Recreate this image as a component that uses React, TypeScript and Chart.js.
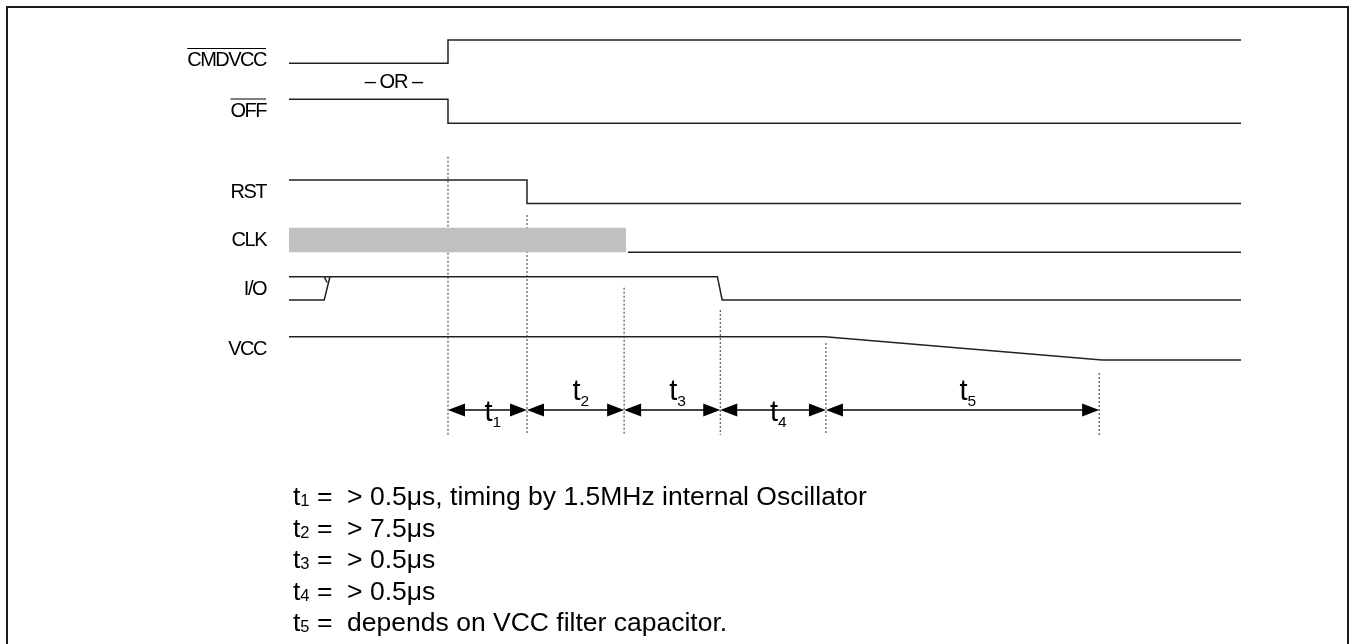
import { useEffect, useRef } from "react";
import { Chart, registerables } from "chart.js";

Chart.register(...registerables);

// ---- signal names (left labels) ----
const SIGNAL_NAMES = ["CMDVCC", "OFF", "RST", "CLK", "I/O", "VCC"];
const SIGNAL_OVERLINE = [true, true, false, false, false, false];

// ---- waveforms: time (0..100) and logic level (1 = high, 0 = low) ----
const CMDVCC_T = [0, 16.7, 16.7, 100];
const CMDVCC_L = [0, 0, 1, 1];

const OFF_T = [0, 16.7, 16.7, 100];
const OFF_L = [1, 1, 0, 0];

const RST_T = [0, 25.0, 25.0, 100];
const RST_L = [1, 1, 0, 0];

const CLK_ACTIVE_T = [0, 35.4];
const CLK_IDLE_T = [35.6, 100];
const CLK_IDLE_L = [0, 0];

const IO_T = [0, 45.0, 45.5, 100];
const IO_L = [1, 1, 0, 0];
const IO_UNDEF_T = [0, 3.7, 4.3];
const IO_UNDEF_L = [0, 0, 1];
const IO_TICK_T = [3.7, 4.0];
const IO_TICK_L = [1, 0.75];

const VCC_T = [0, 56.3, 85.4, 100];
const VCC_L = [1, 1, 0, 0];

// ---- timing markers and intervals ----
const MARKER_T = [16.7, 25.0, 35.2, 45.3, 56.4, 85.1];
const INTERVAL_NAMES = ["1", "2", "3", "4", "5"];
const INTERVAL_LABEL_BELOW = [true, false, false, true, false];

// ---- notes ----
const NOTE_SUBS = ["1", "2", "3", "4", "5"];
const NOTE_TEXTS = [
  "> 0.5\u03bcs, timing by 1.5MHz internal Oscillator",
  "> 7.5\u03bcs",
  "> 0.5\u03bcs",
  "> 0.5\u03bcs",
  "depends on VCC filter capacitor.",
];
const OR_TEXT = "\u2013 OR \u2013";

// ---- layout (diagram units on y axis, top-down) ----
const ROW_HIGH = [40, 99.3, 180, 227.7, 276.7, 336.7];
const ROW_LOW = [63.3, 123.3, 203.5, 252.3, 300, 360];
const LABEL_Y = [60.5, 111, 192, 240.5, 289, 349.5];
const MARKER_TOP = [156.7, 215, 287.7, 310, 343, 373];
const MARKER_BOTTOM = 435;
const ARROW_Y = 410;

const FONT = '"Liberation Sans", Arial, sans-serif';
const LINE_COLOR = "#222";

function wave(times: number[], levels: number[], row: number) {
  return times.map((t, i) => ({
    x: t,
    y: ROW_LOW[row] + (ROW_HIGH[row] - ROW_LOW[row]) * levels[i],
  }));
}

function lineDs(data: { x: number; y: number }[], extra: any = {}) {
  return {
    data,
    borderColor: LINE_COLOR,
    borderWidth: 1.5,
    pointRadius: 0,
    fill: false,
    tension: 0,
    clip: false as any,
    ...extra,
  };
}

const diagramPlugin = {
  id: "diagram",
  beforeDraw(chart: any) {
    const ctx = chart.ctx as CanvasRenderingContext2D;
    ctx.save();
    ctx.fillStyle = "#fff";
    ctx.fillRect(0, 0, chart.width, chart.height);
    ctx.restore();
  },
  afterDatasetsDraw(chart: any) {
    const ctx = chart.ctx as CanvasRenderingContext2D;
    const xs = chart.scales.x;
    const ys = chart.scales.y;
    ctx.save();

    // frame
    ctx.strokeStyle = "#1a1a1a";
    ctx.lineWidth = 2;
    ctx.strokeRect(7, 7, 1341, 660);

    // signal labels
    const labelRight = xs.getPixelForValue(0) - 23;
    ctx.fillStyle = "#000";
    ctx.textBaseline = "middle";
    ctx.textAlign = "right";
    ctx.font = `20px ${FONT}`;
    SIGNAL_NAMES.forEach((name, i) => {
      (ctx as any).letterSpacing = "-1.5px";
      const yc = ys.getPixelForValue(LABEL_Y[i]);
      ctx.fillText(name, labelRight, yc);
      if (SIGNAL_OVERLINE[i]) {
        const w = ctx.measureText(name).width;
        ctx.strokeStyle = "#000";
        ctx.lineWidth = 1.2;
        ctx.beginPath();
        ctx.moveTo(labelRight - w, yc - 12);
        ctx.lineTo(labelRight, yc - 12);
        ctx.stroke();
      }
    });

    // – OR –
    (ctx as any).letterSpacing = "-1px";
    ctx.textAlign = "center";
    ctx.fillText(OR_TEXT, (xs.getPixelForValue(0) + xs.getPixelForValue(16.7)) / 2 + 25, ys.getPixelForValue(82.5));
    (ctx as any).letterSpacing = "0px";

    // interval arrows
    const ay = ys.getPixelForValue(ARROW_Y);
    const head = (tip: number, dir: number) => {
      ctx.beginPath();
      ctx.moveTo(tip, ay);
      ctx.lineTo(tip - dir * 17, ay - 6.5);
      ctx.lineTo(tip - dir * 17, ay + 6.5);
      ctx.closePath();
      ctx.fill();
    };
    for (let i = 0; i < MARKER_T.length - 1; i++) {
      const x0 = xs.getPixelForValue(MARKER_T[i]);
      const x1 = xs.getPixelForValue(MARKER_T[i + 1]);
      ctx.strokeStyle = "#444";
      ctx.lineWidth = 2;
      ctx.beginPath();
      ctx.moveTo(x0 + 10, ay);
      ctx.lineTo(x1 - 10, ay);
      ctx.stroke();
      ctx.fillStyle = "#000";
      head(x0, -1);
      head(x1, 1);

      // label t_n
      const mid = (x0 + x1) / 2;
      const base = INTERVAL_LABEL_BELOW[i] ? ay + 11 : ay - 10;
      ctx.textAlign = "left";
      ctx.textBaseline = "alphabetic";
      ctx.font = `29px ${FONT}`;
      ctx.fillText("t", mid - 3, base);
      ctx.font = `15.5px ${FONT}`;
      ctx.fillText(INTERVAL_NAMES[i], mid + 5, base + 6);
    }

    // notes
    const noteX = 293;
    NOTE_TEXTS.forEach((txt, i) => {
      const base = 505 + i * 31.5;
      ctx.font = `26.5px ${FONT}`;
      ctx.textAlign = "left";
      ctx.textBaseline = "alphabetic";
      ctx.fillText("t", noteX, base);
      const tw = ctx.measureText("t").width;
      ctx.font = `16.5px ${FONT}`;
      ctx.fillText(NOTE_SUBS[i], noteX + tw, base + 1);
      const sw = ctx.measureText(NOTE_SUBS[i]).width;
      ctx.font = `26.5px ${FONT}`;
      ctx.fillText("\u00a0=\u00a0\u00a0" + txt, noteX + tw + sw, base);
    });

    ctx.restore();
  },
};

export default function App() {
  const ref = useRef<HTMLCanvasElement | null>(null);

  useEffect(() => {
    document.body.style.margin = "0";
    if (!ref.current) return;

    const clkTop = CLK_ACTIVE_T.map((t) => ({ x: t, y: ROW_HIGH[3] }));
    const clkBottom = CLK_ACTIVE_T.map((t) => ({ x: t, y: ROW_LOW[3] }));

    const markerSets = MARKER_T.map((t, i) =>
      lineDs(
        [
          { x: t, y: MARKER_TOP[i] },
          { x: t, y: MARKER_BOTTOM },
        ],
        { borderColor: "#333", borderWidth: 1, borderDash: [2, 2] }
      )
    );

    const chart = new Chart(ref.current, {
      type: "line",
      data: {
        datasets: [
          lineDs(clkTop, { borderWidth: 0, borderColor: "rgba(0,0,0,0)" }),
          lineDs(clkBottom, {
            borderWidth: 0,
            borderColor: "rgba(0,0,0,0)",
            fill: "-1",
            backgroundColor: "#c0c0c0",
          }),
          lineDs(wave(CMDVCC_T, CMDVCC_L, 0)),
          lineDs(wave(OFF_T, OFF_L, 1)),
          lineDs(wave(RST_T, RST_L, 2)),
          lineDs(wave(CLK_IDLE_T, CLK_IDLE_L, 3)),
          lineDs(wave(IO_T, IO_L, 4)),
          lineDs(wave(IO_UNDEF_T, IO_UNDEF_L, 4)),
          lineDs(wave(IO_TICK_T, IO_TICK_L, 4)),
          lineDs(wave(VCC_T, VCC_L, 5)),
          ...markerSets,
        ] as any,
      },
      options: {
        animation: false,
        responsive: false,
        events: [],
        layout: { padding: { left: 289, right: 110, top: 0, bottom: 0 }, autoPadding: false },
        plugins: { legend: { display: false }, tooltip: { enabled: false } },
        scales: {
          x: { type: "linear", min: 0, max: 100, display: false },
          y: { type: "linear", min: 0, max: 644, reverse: true, display: false },
        },
      } as any,
      plugins: [diagramPlugin],
    });

    return () => chart.destroy();
  }, []);

  return (
    <div style={{ width: 1351, height: 644 }}>
      <canvas ref={ref} width={1351} height={644} style={{ width: 1351, height: 644, display: "block" }} />
    </div>
  );
}
